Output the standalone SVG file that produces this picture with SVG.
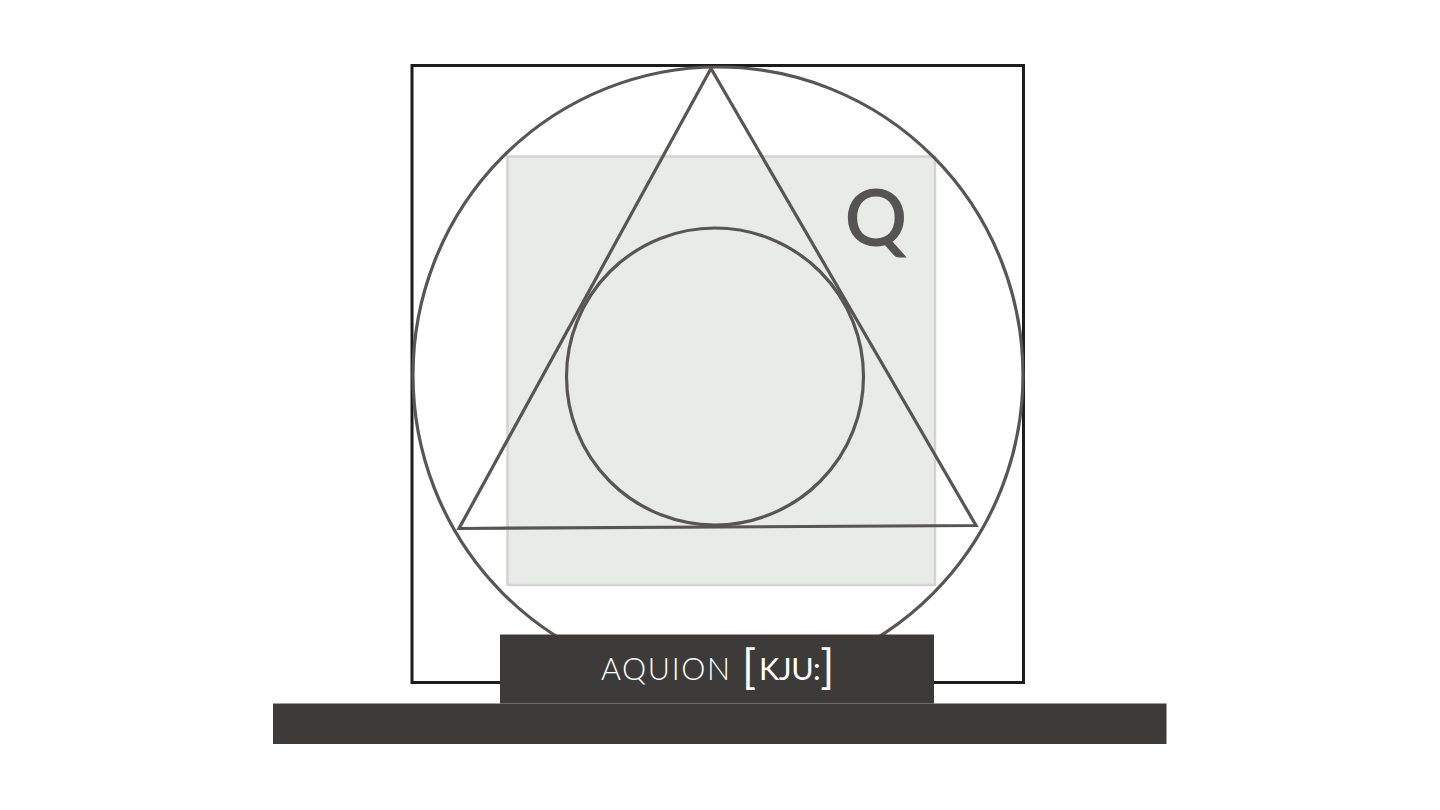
<svg xmlns="http://www.w3.org/2000/svg" width="1440" height="810" viewBox="0 0 1440 810">
<style>
.geo{fill:none;stroke:#575655;stroke-width:3.2}
.dark{fill:#3c3b39}
.lbl{font-family:Lato,"Open Sans","Liberation Sans",sans-serif;fill:#ffffff}
</style>
<rect width="1440" height="810" fill="#ffffff"/>
<g id="frame">
<rect x="412" y="65.5" width="611.5" height="617" fill="none" stroke="#1c1c1c" stroke-width="3"/>
</g>
<g id="shaded-square">
<rect x="507.5" y="156.5" width="427.5" height="428.5" fill="#e9ebe6" stroke="#d3d3d3" stroke-width="2.5"/>
</g>
<g id="q-mark">
<text x="876" y="246" text-anchor="middle" font-family="Lato,'Open Sans','Liberation Sans',sans-serif" font-size="78" font-weight="600" fill="#555453">Q</text>
</g>
<g id="outer-circle">
<ellipse class="geo" cx="718" cy="375" rx="305" ry="308"/>
</g>
<g id="triangle">
<polygon class="geo" points="711,68.5 459,528.5 976,525.5" stroke-linejoin="miter"/>
</g>
<g id="inner-circle">
<circle class="geo" cx="715" cy="376.5" r="148.5"/>
</g>
<g id="base">
<rect class="dark" x="273" y="703.5" width="893.5" height="40.5"/>
<rect class="dark" x="500" y="634.5" width="434" height="69"/>
</g>
<g id="label">
<text class="lbl" x="601" y="680" font-size="30.5" font-weight="300" letter-spacing="1.6">AQUION</text>
<text class="lbl" x="742" y="680" font-size="30.5"><tspan font-size="46" font-weight="400" dy="3">[</tspan><tspan font-weight="400" dy="-3" dx="3" letter-spacing="-0.5">KJU:</tspan><tspan font-size="46" font-weight="400" dy="3" dx="0">]</tspan></text>
</g>
</svg>
